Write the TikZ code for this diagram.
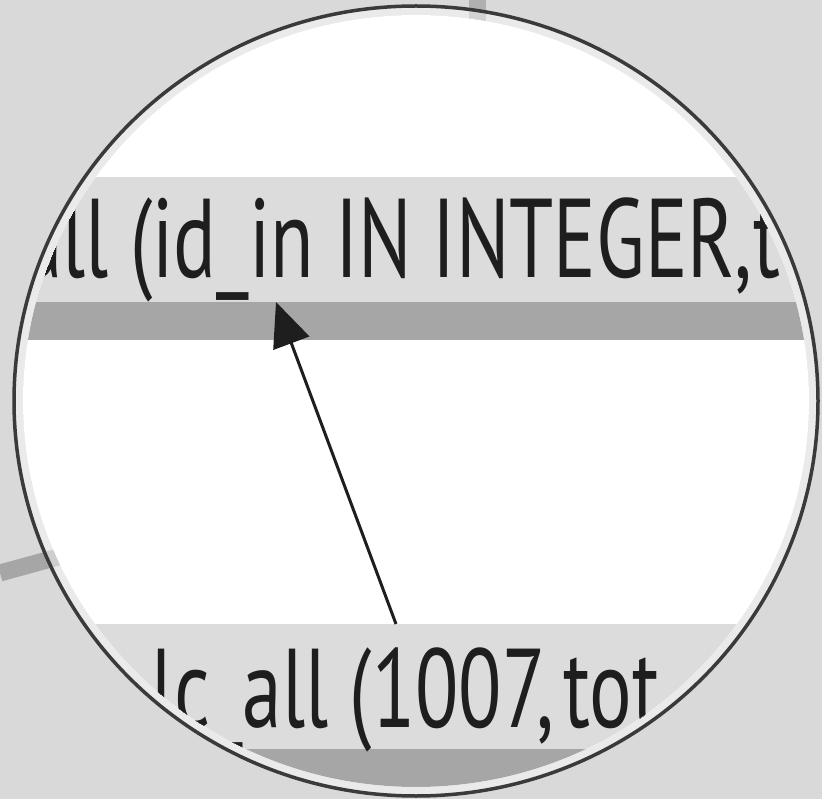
\documentclass[tikz,border=0pt]{standalone}
\usepackage{fontspec}
\newfontfamily\codefont[FakeStretch=0.71]{PT Sans}
\usetikzlibrary{arrows.meta}
\definecolor{paper}{RGB}{217,217,217}
\definecolor{band}{RGB}{220,220,220}
\definecolor{barc}{RGB}{166,166,166}
\definecolor{ink}{RGB}{30,30,30}
\definecolor{rim}{RGB}{58,58,58}
\definecolor{wire}{RGB}{176,176,176}
\tikzset{
  >={Triangle[length=44pt,width=38pt]},
  band/.style={fill=band},
  bar/.style={fill=barc},
  code/.style={font=\codefont\fontsize{112}{118}\selectfont,text=ink,inner sep=0pt,anchor=base west},
  flow/.style={->,line width=3pt,draw=ink},
  wire/.style={draw=#1,line width=17pt},
  wire/.default=wire,
}
\begin{document}
\begin{tikzpicture}[x=1pt,y=-1pt]
  \useasboundingbox (0,0) rectangle (822,799);
  \fill[paper] (0,0) rectangle (822,799);
  % lines behind the lens
  \draw[wire] (477,0) -- (477,40);
  \draw[wire=barc] (0,573) -- (80,551);
  % the lens
  \begin{scope}
    \clip (416,401) ellipse [x radius=393, y radius=386];
    \fill[white] (0,0) rectangle (822,799);
    \fill[band] (0,177) rectangle (822,302);
    \fill[bar] (0,302) rectangle (822,340);
    \fill[band] (0,624) rectangle (822,749);
    \fill[bar] (0,749) rectangle (822,787);
    \node[code] (sig) at (23,278) {all (id\_in IN INTEGER,\hspace{1pt}tot};
    \node[code] (call) at (151,727) {lc\_all (1007,\hspace{9pt}tot};
    \coordinate (sigport) at (276,302);
    \coordinate (callport) at (396,624);
    \draw[flow] (callport) -- (sigport);
  \end{scope}
  \fill[white,opacity=0.45,even odd rule] (416,401) ellipse [x radius=402, y radius=395]
    (416,401) ellipse [x radius=393, y radius=386];
  \draw[rim,line width=3.5pt] (416,401) ellipse [x radius=402, y radius=395];
\end{tikzpicture}
\end{document}
